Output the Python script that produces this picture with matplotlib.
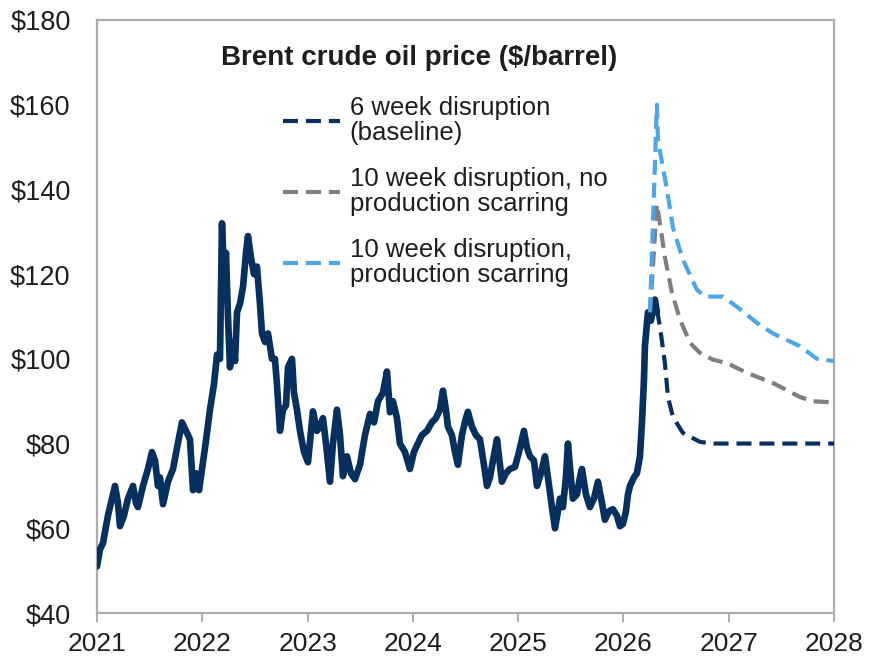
import matplotlib
matplotlib.use("Agg")
import matplotlib.pyplot as plt
from matplotlib.lines import Line2D

plt.rcParams['font.family'] = ['Liberation Sans', 'DejaVu Sans']

# ---------------- data ----------------
# Historical Brent price (decimal year, $/barrel)
hist_year = [
    2021.000, 2021.028, 2021.057, 2021.104, 2021.171, 2021.199, 2021.218, 2021.256,
    2021.294, 2021.342, 2021.370, 2021.389, 2021.437, 2021.484, 2021.522, 2021.551,
    2021.579, 2021.598, 2021.627, 2021.674, 2021.722, 2021.760, 2021.807, 2021.845,
    2021.883, 2021.912, 2021.940, 2021.969, 2022.026, 2022.073, 2022.111, 2022.140,
    2022.168, 2022.187, 2022.206, 2022.225, 2022.244, 2022.263, 2022.292, 2022.311,
    2022.330, 2022.358, 2022.387, 2022.415, 2022.434, 2022.462, 2022.491, 2022.519,
    2022.548, 2022.567, 2022.595, 2022.624, 2022.662, 2022.690, 2022.709, 2022.738,
    2022.766, 2022.795, 2022.814, 2022.852, 2022.871, 2022.899, 2022.928, 2022.966,
    2023.004, 2023.051, 2023.089, 2023.118, 2023.146, 2023.175, 2023.213, 2023.241,
    2023.279, 2023.308, 2023.336, 2023.374, 2023.412, 2023.450, 2023.498, 2023.545,
    2023.593, 2023.631, 2023.669, 2023.716, 2023.754, 2023.783, 2023.811, 2023.849,
    2023.877, 2023.925, 2023.972, 2024.010, 2024.048, 2024.086, 2024.134, 2024.181,
    2024.219, 2024.257, 2024.286, 2024.314, 2024.333, 2024.371, 2024.400, 2024.428,
    2024.466, 2024.504, 2024.523, 2024.561, 2024.599, 2024.637, 2024.675, 2024.704,
    2024.732, 2024.761, 2024.799, 2024.827, 2024.846, 2024.884, 2024.922, 2024.970,
    2025.008, 2025.055, 2025.084, 2025.112, 2025.150, 2025.179, 2025.217, 2025.255,
    2025.283, 2025.321, 2025.350, 2025.378, 2025.397, 2025.425, 2025.454, 2025.473,
    2025.501, 2025.520, 2025.558, 2025.587, 2025.606, 2025.644, 2025.682, 2025.720,
    2025.758, 2025.796, 2025.824, 2025.862, 2025.900, 2025.938, 2025.967, 2025.995,
    2026.024, 2026.043, 2026.062, 2026.100, 2026.128, 2026.157, 2026.176, 2026.195,
    2026.204, 2026.233, 2026.261, 2026.299, 2026.318,
]
hist_price = [
    51, 55, 56.5, 63, 70, 66, 60.5, 63,
    67, 70, 66, 65, 70, 74, 78, 76,
    70, 72, 65.7, 71, 74, 79, 85, 83,
    81, 69, 73, 69, 79, 88, 94, 101,
    100, 132, 120, 125, 110, 98, 104, 99.5,
    111, 113, 117, 125, 129, 124, 120, 121.8,
    113, 106, 104, 106, 100, 100, 94, 83,
    88, 89, 98, 100, 92, 88, 83, 78,
    75.6, 87.6, 83, 84, 86, 80, 71, 80,
    88, 82, 72.3, 77, 73, 71.6, 75, 82,
    87, 85, 90, 92, 97, 87.4, 90, 86,
    80, 78, 74, 78, 80, 82, 83, 85,
    86, 88, 92.5, 88, 84, 82, 78, 75,
    82, 86, 87.5, 84, 82, 81, 75, 70,
    72, 76, 81, 75, 71, 73, 74, 74.5,
    78, 83, 79, 77, 76, 70, 73, 77,
    72, 65, 60, 64, 67, 65, 72, 80,
    72, 67, 68, 72, 74, 68, 65, 67,
    71, 66, 62, 64, 64.5, 63, 60.5, 61,
    64, 68, 70, 72, 73, 77, 85, 95,
    103, 111, 109, 114, 111,
]

# Scenario paths
base_year = [2026.318, 2026.347, 2026.394, 2026.423, 2026.470, 2026.565, 2026.727, 2026.850, 2028.000]
base_price = [111.6, 107.6, 99, 91, 86.3, 82.5, 80.4, 80, 80]

grey_year = [2026.252, 2026.318, 2026.347, 2026.394, 2026.461, 2026.537, 2026.632, 2026.727,
             2026.850, 2026.983, 2027.173, 2027.420, 2027.676, 2027.800, 2028.000]
grey_price = [111, 136.5, 132, 124, 115.6, 109.3, 103.8, 101.4,
              99.8, 99, 96.7, 94.3, 91, 90, 89.7]

lb_year = [2026.252, 2026.318, 2026.328, 2026.413, 2026.470, 2026.565, 2026.698, 2026.774,
           2026.945, 2027.078, 2027.268, 2027.420, 2027.676, 2027.838, 2028.000]
lb_price = [111, 160, 151.7, 140, 131, 123.4, 116.3, 114.7,
            114.7, 112.3, 108.5, 106, 103, 100, 99.5]

series_labels = ["6 week disruption\n(baseline)",
                 "10 week disruption, no\nproduction scarring",
                 "10 week disruption,\nproduction scarring"]
chart_title = "Brent crude oil price ($/barrel)"
year_ticks = [2021, 2022, 2023, 2024, 2025, 2026, 2027, 2028]
price_ticks = [40, 60, 80, 100, 120, 140, 160, 180]

# ---------------- style ----------------
NAVY = '#07305E'
GREY = '#7F7F7F'
LBLUE = '#4FA6E6'
AXIS_C = '#ADADAD'
TEXT_C = '#1E1E1E'
dash = (0, (3.6, 1.9))

W, H = 870, 661
fig = plt.figure(figsize=(W / 100, H / 100), dpi=100)
ax = fig.add_axes([97 / W, 1 - 613 / H, (834 - 97) / W, (613 - 20) / H])

ax.plot(hist_year, hist_price, color=NAVY, lw=4.8, solid_joinstyle='round',
        solid_capstyle='round', zorder=3)
ax.plot(base_year, base_price, color=NAVY, lw=3.0, linestyle=dash, dash_capstyle='butt', zorder=4)
ax.plot(grey_year, grey_price, color=GREY, lw=3.0, linestyle=dash, dash_capstyle='butt', zorder=4)
ax.plot(lb_year, lb_price, color=LBLUE, lw=3.0, linestyle=dash, dash_capstyle='butt', zorder=5)

ax.set_xlim(2021, 2028)
ax.set_ylim(40, 180)
ax.set_xticks(year_ticks)
ax.set_xticklabels([str(y) for y in year_ticks])
ax.set_yticks(price_ticks)
ax.set_yticklabels([f"${p}" for p in price_ticks])

for s in ax.spines.values():
    s.set_color(AXIS_C)
    s.set_linewidth(1.6)

ax.tick_params(axis='x', direction='out', length=6.5, width=1.4, color=AXIS_C,
               labelsize=19, labelcolor=TEXT_C, pad=7)
ax.tick_params(axis='y', length=0, labelsize=19.5, labelcolor=TEXT_C, pad=19)

# title inside plot
fig.text(419 / W, 1 - 58 / H, chart_title, ha='center', va='center',
         fontsize=20, fontweight='bold', color=TEXT_C)

# legend
handles = [Line2D([], [], color=NAVY, lw=3.0, linestyle=dash, dash_capstyle='butt'),
           Line2D([], [], color=GREY, lw=3.0, linestyle=dash, dash_capstyle='butt'),
           Line2D([], [], color=LBLUE, lw=3.0, linestyle=dash, dash_capstyle='butt')]
leg = ax.legend(handles, series_labels, loc='upper left',
                bbox_to_anchor=(283 / W, 1 - 96 / H), bbox_transform=fig.transFigure,
                frameon=False, fontsize=18.5, handlelength=2.2, handletextpad=0.4,
                labelspacing=0.85, borderpad=0, borderaxespad=0)
for t in leg.get_texts():
    t.set_color(TEXT_C)
    t.set_linespacing(1.05)

fig.savefig("out.png", dpi=100)
